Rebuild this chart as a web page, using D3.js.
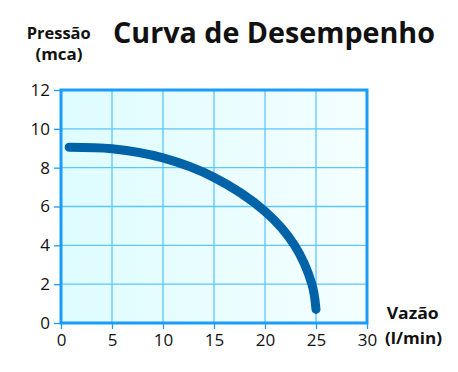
<!DOCTYPE html>
<html>
<head>
<meta charset="utf-8">
<script src="https://cdn.jsdelivr.net/npm/d3@7"></script>
<style>
  body { margin: 0; background: #fff; }
  text { font-family: "Open Sans", sans-serif; fill: #111; }
</style>
</head>
<body>
<div id="display"></div>
<script>
// curve values
let flow = [0.8, 5, 10, 15, 20, 22.9, 24.6, 25];
let pressure = [9.05, 8.97, 8.5, 7.5, 5.75, 4.0, 2.0, 0.7];
let xTicks = [0, 5, 10, 15, 20, 25, 30];
let yTicks = [0, 2, 4, 6, 8, 10, 12];

let margin = {top: 90, right: 91, bottom: 49, left: 61};
let width = 458 - margin.left - margin.right;
let height = 372 - margin.top - margin.bottom;

let svg = d3.select('#display')
  .append('svg')
    .attr('width', 458)
    .attr('height', 372);

let defs = svg.append('defs');
let grad = defs.append('linearGradient')
    .attr('id', 'bg')
    .attr('x1', '0%').attr('x2', '100%');
grad.append('stop').attr('offset', '0%').attr('stop-color', '#defcff');
grad.append('stop').attr('offset', '100%').attr('stop-color', '#f4feff');

let g = svg.append('g')
    .attr('transform', 'translate(' + margin.left + ',' + margin.top + ')');

let xScale = d3.scaleLinear().domain([0, 30]).range([0, width]);
let yScale = d3.scaleLinear().domain([0, 12]).range([height, 0]);

g.append('rect')
  .attr('width', width)
  .attr('height', height)
  .attr('fill', 'url(#bg)');

// grid
g.append('g')
  .selectAll('line')
  .data(xTicks.slice(1, -1))
  .join('line')
    .attr('x1', d => xScale(d)).attr('x2', d => xScale(d))
    .attr('y1', 0).attr('y2', height)
    .attr('stroke', '#5cc6ff').attr('stroke-width', 1.3);
g.append('g')
  .selectAll('line')
  .data(yTicks.slice(1, -1))
  .join('line')
    .attr('y1', d => yScale(d)).attr('y2', d => yScale(d))
    .attr('x1', 0).attr('x2', width)
    .attr('stroke', '#5cc6ff').attr('stroke-width', 1.3);

// axes
let xAxis = g.append('g')
  .attr('transform', 'translate(0,' + height + ')')
  .call(d3.axisBottom(xScale).tickValues(xTicks).tickSize(6).tickPadding(5));
let yAxis = g.append('g')
  .call(d3.axisLeft(yScale).tickValues(yTicks).tickSize(7).tickPadding(4));

[xAxis, yAxis].forEach(a => {
  a.select('.domain').remove();
  a.selectAll('line').attr('stroke', '#1e9bf5').attr('stroke-width', 1.3);
  a.selectAll('text')
    .attr('font-family', '"Open Sans", sans-serif')
    .attr('font-size', 17)
    .attr('fill', '#111');
});

g.append('rect')
  .attr('width', width)
  .attr('height', height)
  .attr('fill', 'none')
  .attr('stroke', '#1a9cf7')
  .attr('stroke-width', 3);

// performance curve
let line = d3.line()
  .x(d => xScale(d[0]))
  .y(d => yScale(d[1]))
  .curve(d3.curveCatmullRom);

g.append('path')
  .datum(d3.zip(flow, pressure))
  .attr('d', line)
  .attr('fill', 'none')
  .attr('stroke', '#0063a8')
  .attr('stroke-width', 9)
  .attr('stroke-linecap', 'round');

// titles
svg.append('text')
  .attr('x', 113).attr('y', 43)
  .attr('font-size', 29).attr('font-weight', 700)
  .attr('textLength', 322).attr('lengthAdjust', 'spacingAndGlyphs')
  .text('Curva de Desempenho');

let labels = [
  {t: 'Pressão', x: 58.7, y: 39, w: 64},
  {t: '(mca)', x: 59, y: 60, w: 47},
  {t: 'Vazão', x: 412.7, y: 319, w: 52},
  {t: '(l/min)', x: 413.5, y: 344, w: 57}
];
svg.append('g')
  .selectAll('text')
  .data(labels)
  .join('text')
    .attr('x', d => d.x).attr('y', d => d.y)
    .attr('text-anchor', 'middle')
    .attr('font-size', 16).attr('font-weight', 700)
    .attr('textLength', d => d.w).attr('lengthAdjust', 'spacingAndGlyphs')
    .text(d => d.t);
</script>
</body>
</html>
